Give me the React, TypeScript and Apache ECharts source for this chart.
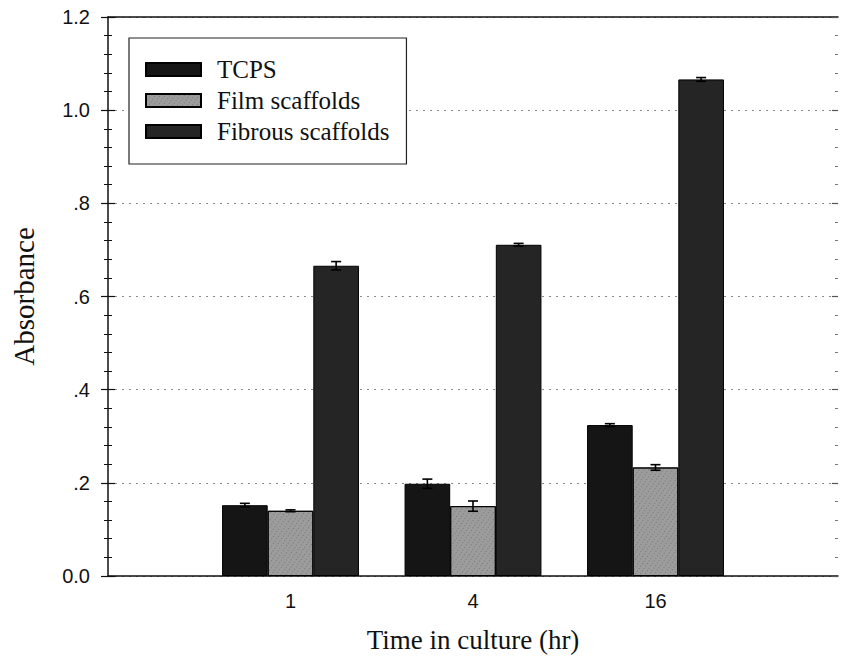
import React, { useEffect, useRef } from "react";
import * as echarts from "echarts";

const categories = ["", "1", "4", "16", ""];
const seriesNames = ["TCPS", "Film scaffolds", "Fibrous scaffolds"];
const tcps = [null, 0.152, 0.198, 0.324, null];
const tcpsErr = [null, 0.004, 0.01, 0.003, null];
const film = [null, 0.14, 0.15, 0.233, null];
const filmErr = [null, 0.002, 0.011, 0.006, null];
const fibrous = [null, 0.666, 0.711, 1.066, null];
const fibrousErr = [null, 0.009, 0.003, 0.004, null];
const yTickLabels: Record<string, string> = {
  "0": "0.0",
  "0.2": ".2",
  "0.4": ".4",
  "0.6": ".6",
  "0.8": ".8",
  "1": "1.0",
  "1.2": "1.2",
};

const SERIF = "'Liberation Serif', 'Times New Roman', serif";
const SANS = "'Liberation Sans', Arial, sans-serif";

export default function App() {
  const ref = useRef<HTMLDivElement>(null);
  useEffect(() => {
    if (!ref.current) return;
    const chart = echarts.init(ref.current, null, { renderer: "svg" });
    const values = [tcps, film, fibrous];
    const errs = [tcpsErr, filmErr, fibrousErr];
    const errData: any[] = [];
    values.forEach((arr, k) => {
      arr.forEach((v, i) => {
        if (v != null) errData.push([i, v, errs[k][i], k]);
      });
    });
    const colors = ["#151515", "#9c9c9c", "#252525"];
    const decals: any[] = [
      null,
      {
        symbol: "rect",
        symbolSize: 1,
        color: "rgba(70,70,70,0.45)",
        dashArrayX: [1, 3],
        dashArrayY: [1, 2],
        rotation: 0.6,
      },
      null,
    ];
    const yCommon = {
      type: "value",
      min: 0,
      max: 1.2,
      interval: 0.2,
    };
    const option: any = {
      animation: false,
      backgroundColor: "#ffffff",
      grid: { left: 108, right: 1, top: 17, bottom: 86, containLabel: false },
      legend: {
        orient: "vertical",
        left: 129,
        top: 38,
        padding: [19, 17, 20, 16],
        itemWidth: 55,
        itemHeight: 13,
        itemGap: 6,
        icon: "rect",
        borderColor: "#222",
        borderWidth: 1.2,
        backgroundColor: "#fff",
        textStyle: {
          fontFamily: SERIF,
          fontSize: 25,
          color: "#111",
          padding: [0, 0, 0, 11],
        },
        data: seriesNames,
      },
      xAxis: [
        {
          type: "category",
          data: categories,
          boundaryGap: false,
          axisLine: { show: true, onZero: false, lineStyle: { color: "#111", width: 1.5 } },
          axisTick: { show: false },
          axisLabel: {
            fontFamily: SANS,
            fontSize: 20,
            color: "#111",
            margin: 15,
          },
          splitLine: { show: false },
          name: "Time in culture (hr)",
          nameLocation: "middle",
          nameGap: 50,
          nameTextStyle: { fontFamily: SERIF, fontSize: 27, color: "#111" },
        },
        {
          type: "category",
          data: categories,
          boundaryGap: false,
          position: "top",
          axisLine: { show: true, onZero: false, lineStyle: { color: "#111", width: 1.5 } },
          axisTick: { show: false },
          axisLabel: { show: false },
          splitLine: { show: false },
        },
      ],
      yAxis: [
        {
          ...yCommon,
          position: "left",
          axisLine: { show: true, onZero: false, lineStyle: { color: "#111", width: 1.5 } },
          axisTick: { show: true, inside: false, length: 7, lineStyle: { color: "#111", width: 1.2 } },
          minorTick: { show: true, splitNumber: 5, length: 4, lineStyle: { color: "#111", width: 1 } },
          axisLabel: {
            fontFamily: SANS,
            fontSize: 20,
            color: "#111",
            margin: 18,
            formatter: (v: number) => yTickLabels[String(Math.round(v * 10) / 10)] ?? String(v),
          },
          splitLine: { show: true, lineStyle: { color: "#8a8a8a", type: [2, 5], width: 1 } },
          name: "Absorbance",
          nameLocation: "middle",
          nameGap: 70,
          nameTextStyle: { fontFamily: SERIF, fontSize: 29, color: "#111" },
        },
        {
          ...yCommon,
          position: "left",
          axisLine: { show: false },
          axisTick: { show: true, inside: true, length: 7, lineStyle: { color: "#111", width: 1.2 } },
          minorTick: { show: true, splitNumber: 5, length: 4, lineStyle: { color: "#111", width: 1 } },
          axisLabel: { show: false },
          splitLine: { show: false },
        },
        {
          ...yCommon,
          position: "right",
          axisLine: { show: false },
          axisTick: { show: true, inside: true, length: 6, lineStyle: { color: "#555", width: 1.2 } },
          minorTick: { show: true, splitNumber: 5, length: 3, lineStyle: { color: "#777", width: 1 } },
          axisLabel: { show: false },
          splitLine: { show: false },
        },
      ],
      series: [
        ...seriesNames.map((name, k) => ({
          name,
          type: "bar",
          xAxisIndex: 0,
          yAxisIndex: 0,
          data: values[k],
          barWidth: "25%",
          barGap: "0%",
          itemStyle: {
            color: colors[k],
            borderColor: "#000",
            borderWidth: 1,
            ...(decals[k] ? { decal: decals[k] } : {}),
          },
          z: 2,
        })),
        {
          name: "error",
          type: "custom",
          xAxisIndex: 0,
          yAxisIndex: 0,
          data: errData,
          z: 5,
          renderItem: (params: any, api: any) => {
            const x = api.value(0);
            const v = api.value(1);
            const e = api.value(2);
            const k = api.value(3);
            const bw = api.size([1, 0])[0] * 0.25;
            const c = api.coord([x, v]);
            const cx = c[0] + (k - 1) * bw;
            const top = api.coord([x, v + e])[1];
            const bot = api.coord([x, v - e])[1];
            const half = 5;
            const style = { stroke: "#000", lineWidth: 1.6 };
            return {
              type: "group",
              children: [
                { type: "line", shape: { x1: cx, y1: top, x2: cx, y2: bot }, style },
                { type: "line", shape: { x1: cx - half, y1: top, x2: cx + half, y2: top }, style },
                { type: "line", shape: { x1: cx - half, y1: bot, x2: cx + half, y2: bot }, style },
              ],
            };
          },
        },
      ],
    };
    chart.setOption(option);
    return () => chart.dispose();
  }, []);
  return <div ref={ref} style={{ width: 841, height: 662, position: "absolute", left: 0, top: 0 }} />;
}
